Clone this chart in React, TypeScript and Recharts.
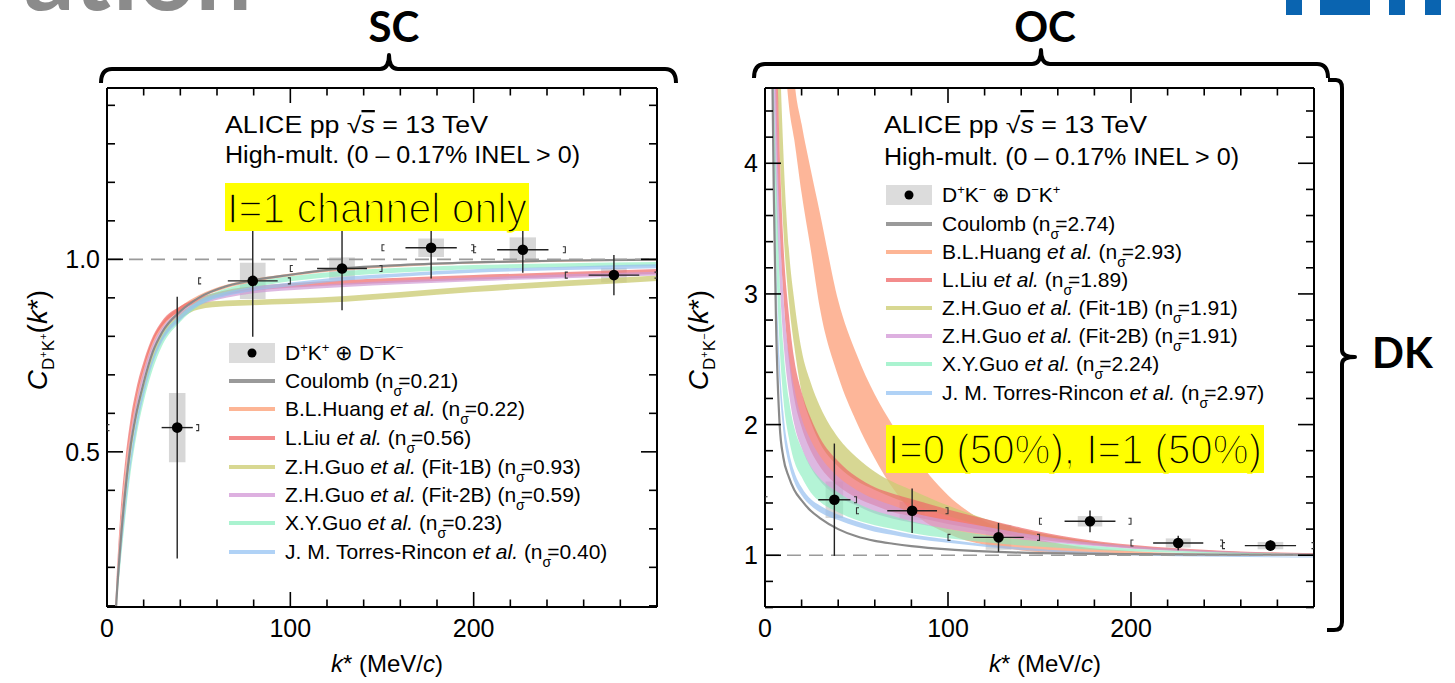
import React from "react";
import {
    ComposedChart,
    Area,
    Line,
    Scatter,
    ErrorBar,
    XAxis,
    YAxis,
    ReferenceLine,
    ReferenceArea,
} from "recharts";

const SANS = "'Liberation Sans', Arial, Helvetica, sans-serif";
const TITLE = "Lato, 'Open Sans', sans-serif";

// ---------- same-charge panel: D+K+ ⊕ D-K-
const scK = [4, 5, 7, 10, 13, 16, 20, 25, 30, 40, 50, 65, 80, 100, 130, 160, 200, 250, 300];
const scCoulomb = [0.0, 0.1, 0.24, 0.4, 0.52, 0.6, 0.68, 0.76, 0.81, 0.865, 0.9, 0.93, 0.946, 0.96, 0.977, 0.985, 0.992, 0.997, 0.999];
const scHuang = [[0.0, 0.02], [0.11, 0.13], [0.26, 0.29], [0.42, 0.45], [0.54, 0.57], [0.62, 0.65], [0.7, 0.725], [0.775, 0.795], [0.82, 0.835], [0.867, 0.878], [0.897, 0.907], [0.925, 0.934], [0.941, 0.949], [0.956, 0.963], [0.972, 0.978], [0.981, 0.987], [0.989, 0.994], [0.994, 0.998], [0.996, 1.0]];
const scLiu = [[0.01, 0.04], [0.13, 0.15], [0.29, 0.32], [0.45, 0.48], [0.56, 0.59], [0.64, 0.665], [0.715, 0.735], [0.785, 0.8], [0.826, 0.84], [0.866, 0.878], [0.888, 0.9], [0.908, 0.92], [0.918, 0.93], [0.926, 0.938], [0.934, 0.946], [0.94, 0.952], [0.947, 0.959], [0.955, 0.967], [0.962, 0.975]];
const scFit1B = [[0.0, 0.02], [0.09, 0.11], [0.22, 0.25], [0.37, 0.4], [0.49, 0.52], [0.58, 0.605], [0.66, 0.685], [0.74, 0.76], [0.79, 0.81], [0.845, 0.862], [0.87, 0.886], [0.878, 0.893], [0.881, 0.895], [0.884, 0.898], [0.89, 0.905], [0.9, 0.915], [0.915, 0.93], [0.93, 0.945], [0.944, 0.958]];
const scFit2B = [[0.0, 0.02], [0.1, 0.12], [0.25, 0.27], [0.41, 0.43], [0.53, 0.55], [0.61, 0.63], [0.69, 0.71], [0.765, 0.78], [0.81, 0.823], [0.855, 0.866], [0.88, 0.89], [0.9, 0.91], [0.912, 0.922], [0.92, 0.93], [0.928, 0.938], [0.935, 0.945], [0.943, 0.953], [0.951, 0.961], [0.958, 0.968]];
const scXYGuo = [[0.0, 0.01], [0.08, 0.1], [0.19, 0.22], [0.33, 0.37], [0.45, 0.49], [0.54, 0.58], [0.63, 0.665], [0.715, 0.745], [0.775, 0.8], [0.838, 0.856], [0.878, 0.894], [0.91, 0.924], [0.927, 0.941], [0.943, 0.956], [0.957, 0.97], [0.966, 0.978], [0.974, 0.985], [0.979, 0.99], [0.982, 0.993]];
const scTorres = [[0.0, 0.01], [0.085, 0.1], [0.2, 0.225], [0.345, 0.37], [0.465, 0.49], [0.555, 0.58], [0.645, 0.665], [0.73, 0.745], [0.785, 0.8], [0.842, 0.855], [0.88, 0.892], [0.905, 0.916], [0.918, 0.929], [0.93, 0.94], [0.945, 0.955], [0.955, 0.964], [0.965, 0.974], [0.972, 0.981], [0.977, 0.987]];

const scPtK = [38.3, 79.5, 128.2, 176.8, 226.8, 276.5];
const scPtC = [0.563, 0.944, 0.976, 1.03, 1.025, 0.959];
const scPtStat = [0.34, 0.145, 0.108, 0.08, 0.06, 0.052];
const scPtKErr = [8.5, 13.6, 13.6, 14, 14, 13.8];
const scPtSyst = [0.09, 0.047, 0.029, 0.024, 0.032, 0.019];
const scPtSystK = [4.5, 7, 7, 7, 7.2, 7];

// ---------- opposite-charge panel: D+K- ⊕ D-K+
const ocK = [3, 4, 5, 6, 8, 10, 13, 16, 20, 25, 30, 40, 50, 60, 70, 80, 100, 120, 140, 170, 200, 250, 300];
const ocCoulomb = [7.0, 4.7, 3.6, 2.8, 2.0, 1.75, 1.6, 1.5, 1.42, 1.34, 1.285, 1.2, 1.145, 1.11, 1.088, 1.07, 1.045, 1.03, 1.02, 1.013, 1.009, 1.005, 1.003];
const ocHuang = [[9.5, 11], [8.5, 10], [7.5, 9], [6.5, 8.5], [5.6, 7.2], [5.0, 6.5], [4.45, 5.3], [4.18, 4.65], [3.77, 4.3], [3.34, 3.95], [2.89, 3.62], [2.37, 2.95], [2.02, 2.54], [1.74, 2.23], [1.51, 1.99], [1.34, 1.79], [1.165, 1.46], [1.08, 1.26], [1.037, 1.155], [1.012, 1.068], [1.004, 1.032], [1.0, 1.01], [1.0, 1.004]];
const ocFit1B = [[8, 9], [6.5, 7.5], [5.6, 6.6], [5.0, 6.0], [4.1, 4.9], [3.5, 4.1], [2.95, 3.35], [2.6, 2.95], [2.25, 2.57], [2.02, 2.32], [1.86, 2.14], [1.68, 1.9], [1.57, 1.75], [1.5, 1.64], [1.44, 1.56], [1.39, 1.5], [1.3, 1.38], [1.22, 1.28], [1.16, 1.2], [1.1, 1.12], [1.055, 1.07], [1.02, 1.03], [1.005, 1.012]];
const ocLiu = [[7, 8], [5.8, 6.8], [5.0, 5.9], [4.3, 5.2], [3.5, 4.1], [3.0, 3.4], [2.5, 2.85], [2.2, 2.5], [1.98, 2.25], [1.8, 2.05], [1.68, 1.9], [1.53, 1.72], [1.44, 1.6], [1.38, 1.52], [1.33, 1.47], [1.3, 1.43], [1.24, 1.35], [1.19, 1.28], [1.14, 1.21], [1.09, 1.13], [1.055, 1.08], [1.025, 1.035], [1.008, 1.015]];
const ocFit2B = [[6, 7], [5.0, 5.8], [4.3, 5.1], [3.8, 4.6], [3.1, 3.6], [2.65, 3.0], [2.25, 2.55], [2.0, 2.28], [1.82, 2.05], [1.67, 1.88], [1.57, 1.76], [1.45, 1.6], [1.38, 1.5], [1.32, 1.43], [1.28, 1.38], [1.25, 1.33], [1.2, 1.27], [1.16, 1.22], [1.12, 1.17], [1.08, 1.11], [1.05, 1.07], [1.02, 1.03], [1.006, 1.012]];
const ocXYGuo = [[5.5, 6.5], [4.4, 5.2], [3.8, 4.5], [3.3, 4.0], [2.6, 3.1], [2.2, 2.6], [1.9, 2.2], [1.72, 1.98], [1.6, 1.82], [1.48, 1.68], [1.41, 1.59], [1.33, 1.48], [1.27, 1.4], [1.23, 1.34], [1.2, 1.3], [1.17, 1.26], [1.13, 1.2], [1.1, 1.155], [1.075, 1.12], [1.05, 1.08], [1.03, 1.05], [1.012, 1.022], [1.004, 1.01]];
const ocTorres = [[5.5, 6.0], [4.4, 4.9], [3.7, 4.1], [3.0, 3.3], [2.3, 2.5], [1.95, 2.1], [1.7, 1.8], [1.56, 1.64], [1.46, 1.52], [1.38, 1.43], [1.33, 1.38], [1.27, 1.31], [1.22, 1.26], [1.18, 1.22], [1.155, 1.19], [1.13, 1.16], [1.095, 1.12], [1.065, 1.085], [1.04, 1.06], [1.015, 1.03], [1.0, 1.012], [0.988, 0.997], [0.982, 0.99]];

const ocPtK = [37.9, 80.4, 127.6, 177.6, 225.8, 276.2];
const ocPtC = [1.425, 1.341, 1.137, 1.26, 1.094, 1.074];
const ocPtStat = [0.43, 0.17, 0.11, 0.083, 0.056, 0.04];
const ocPtKErr = [8.8, 13.6, 13.8, 13.9, 13.7, 14];
const ocPtSyst = [0.14, 0.07, 0.095, 0.04, 0.035, 0.028];
const ocPtSystK = [4.8, 6.8, 7, 6.7, 6.8, 7];

const binEdges = [0, 50, 100, 150, 200, 250, 300];

// ticks
const xTicks = [0, 20, 40, 60, 80, 100, 120, 140, 160, 180, 200, 220, 240, 260, 280];
const xMajors = [0, 100, 200];
const scYTicks = [0.1, 0.2, 0.3, 0.4, 0.5, 0.6, 0.7, 0.8, 0.9, 1.0, 1.1, 1.2, 1.3, 1.4];
const scYMajors = [0.5, 1.0];
const ocYTicks = [0.6, 0.8, 1, 1.2, 1.4, 1.6, 1.8, 2, 2.2, 2.4, 2.6, 2.8, 3, 3.2, 3.4, 3.6, 3.8, 4, 4.2, 4.4];
const ocYMajors = [1, 2, 3, 4];

// legend
const scNsigma = ["0.21", "0.22", "0.56", "0.93", "0.59", "0.23", "0.40"];
const ocNsigma = ["2.74", "2.93", "1.89", "1.91", "1.91", "2.24", "2.97"];
const legendNames = [
    { pre: "Coulomb", etal: false, post: "" },
    { pre: "B.L.Huang", etal: true, post: "" },
    { pre: "L.Liu", etal: true, post: "" },
    { pre: "Z.H.Guo", etal: true, post: " (Fit-1B)" },
    { pre: "Z.H.Guo", etal: true, post: " (Fit-2B)" },
    { pre: "X.Y.Guo", etal: true, post: "" },
    { pre: "J. M. Torres-Rincon", etal: true, post: "" },
];
const legendColors = ["#9a9a9a", "#fdb595", "#f38c8c", "#d8d892", "#ddb0e0", "#aaf3d0", "#b0d2f6"];

// drawing order of the bands
const bands = [
    { key: "huang", color: "#fca27c", opacity: 0.78 },
    { key: "fit1b", color: "#cccc74", opacity: 0.78 },
    { key: "liu", color: "#ee6868", opacity: 0.7 },
    { key: "fit2b", color: "#cf9ad4", opacity: 0.7 },
    { key: "xyguo", color: "#86eebd", opacity: 0.62 },
    { key: "torres", color: "#98c1f0", opacity: 0.72 },
];

function buildRows(k: number[], coul: number[], huang: number[][], liu: number[][], f1: number[][], f2: number[][], xy: number[][], tr: number[][]) {
    return k.map((kv, i) => ({
        k: kv,
        coulomb: coul[i],
        huang: huang[i],
        liu: liu[i],
        fit1b: f1[i],
        fit2b: f2[i],
        xyguo: xy[i],
        torres: tr[i],
    }));
}

const scRows = buildRows(scK, scCoulomb, scHuang, scLiu, scFit1B, scFit2B, scXYGuo, scTorres);
const ocRows = buildRows(ocK, ocCoulomb, ocHuang, ocLiu, ocFit1B, ocFit2B, ocXYGuo, ocTorres);

const pointRows = (k: number[], c: number[], stat: number[], kErr: number[]) =>
    k.map((kv, i) => ({ k: kv, c: c[i], ey: stat[i], ex: kErr[i] }));

const bracketRows = (c: number[]) =>
    c.flatMap((cv, i) => [
        { k: binEdges[i], c: cv, side: "L" },
        { k: binEdges[i + 1], c: cv, side: "R" },
    ]);

const boxRows = (k: number[], c: number[], sy: number[], sx: number[]) =>
    k.map((kv, i) => ({ x1: kv - sx[i], x2: kv + sx[i], y1: c[i] - sy[i], y2: c[i] + sy[i] }));

const same = (a: number, b: number) => Math.abs(a - b) < 1e-6;

const makeXTick = (labels: boolean, side: "bottom" | "top") => (p: any) => {
    const { x, y, payload } = p;
    const major = xMajors.some((m) => same(m, payload.value));
    const len = major ? 15 : 7.5;
    const dir = side === "bottom" ? -1 : 1;
    return (
        <g>
            <line x1={x} y1={y} x2={x} y2={y + dir * len} stroke="#000" strokeWidth={1.6} />
            {labels && major && (
                <text x={x} y={y + 30} textAnchor="middle" fontSize={25} fontFamily={SANS} fill="#000">
                    {payload.value}
                </text>
            )}
        </g>
    );
};

const makeYTick = (majors: number[], fmt: (v: number) => string, side: "left" | "right") => (p: any) => {
    const { x, y, payload } = p;
    const major = majors.some((m) => same(m, payload.value));
    const len = major ? 16 : 8;
    const dir = side === "left" ? 1 : -1;
    return (
        <g>
            <line x1={x} y1={y} x2={x + dir * len} y2={y} stroke="#000" strokeWidth={1.6} />
            {side === "left" && major && (
                <text x={x - 7} y={y + 9} textAnchor="end" fontSize={25} fontFamily={SANS} fill="#000">
                    {fmt(payload.value)}
                </text>
            )}
        </g>
    );
};

const DataDot = (p: any) => <circle cx={p.cx} cy={p.cy} r={5.3} fill="#000" />;

const BinMark = (p: any) => {
    const { cx, cy, payload } = p;
    const d = payload.side === "L" ? 2.5 : -2.5;
    return (
        <path
            d={`M${cx + d},${cy - 3} L${cx},${cy - 3} L${cx},${cy + 3} L${cx + d},${cy + 3}`}
            stroke="#333"
            strokeWidth={1.1}
            fill="none"
        />
    );
};

const axisLine = { stroke: "#000", strokeWidth: 2 };

interface PanelProps {
    width: number;
    margin: { top: number; right: number; bottom: number; left: number };
    rows: any[];
    points: any[];
    marks: any[];
    boxes: { x1: number; x2: number; y1: number; y2: number }[];
    yDomain: [number, number];
    yTicks: number[];
    yMajors: number[];
    yFmt: (v: number) => string;
}

function Panel({ width, margin, rows, points, marks, boxes, yDomain, yTicks, yMajors, yFmt }: PanelProps) {
    return (
        <ComposedChart width={width} height={683} data={rows} margin={margin}>
            <XAxis
                xAxisId="x"
                dataKey="k"
                type="number"
                domain={[0, 300]}
                ticks={xTicks}
                interval={0}
                allowDataOverflow
                height={10}
                tickSize={0}
                tickMargin={0}
                tickLine={false}
                axisLine={axisLine}
                tick={makeXTick(true, "bottom")}
            />
            <XAxis
                xAxisId="xt"
                orientation="top"
                dataKey="k"
                type="number"
                domain={[0, 300]}
                ticks={xTicks}
                interval={0}
                allowDataOverflow
                height={10}
                tickSize={0}
                tickMargin={0}
                tickLine={false}
                axisLine={axisLine}
                tick={makeXTick(false, "top")}
            />
            <YAxis
                yAxisId="y"
                type="number"
                domain={yDomain}
                ticks={yTicks}
                interval={0}
                allowDataOverflow
                width={10}
                tickSize={0}
                tickMargin={0}
                tickLine={false}
                axisLine={axisLine}
                tick={makeYTick(yMajors, yFmt, "left")}
            />
            <YAxis
                yAxisId="yr"
                orientation="right"
                type="number"
                domain={yDomain}
                ticks={yTicks}
                interval={0}
                allowDataOverflow
                width={10}
                tickSize={0}
                tickMargin={0}
                tickLine={false}
                axisLine={axisLine}
                tick={makeYTick(yMajors, yFmt, "right")}
            />
            {boxes.map((b, i) => (
                <ReferenceArea
                    key={`box${i}`}
                    xAxisId="x"
                    yAxisId="y"
                    x1={b.x1}
                    x2={b.x2}
                    y1={b.y1}
                    y2={b.y2}
                    fill="#b0b0b0"
                    fillOpacity={0.5}
                    stroke="none"
                />
            ))}
            {bands.map((b) => (
                <Area
                    key={b.key}
                    xAxisId="x"
                    yAxisId="y"
                    type="monotone"
                    dataKey={b.key}
                    stroke="none"
                    fill={b.color}
                    fillOpacity={b.opacity}
                    dot={false}
                    activeDot={false}
                    isAnimationActive={false}
                />
            ))}
            <Line
                xAxisId="x"
                yAxisId="y"
                type="monotone"
                dataKey="coulomb"
                stroke="#8a8a8a"
                strokeWidth={2.2}
                dot={false}
                activeDot={false}
                isAnimationActive={false}
            />
            <ReferenceLine xAxisId="x" yAxisId="y" y={1} stroke="#9a9a9a" strokeWidth={1.6} strokeDasharray="14 8" />
            <Scatter xAxisId="x" yAxisId="y" data={marks} dataKey="c" shape={BinMark} isAnimationActive={false} />
            <Scatter xAxisId="x" yAxisId="y" data={points} dataKey="c" shape={DataDot} isAnimationActive={false}>
                <ErrorBar dataKey="ey" direction="y" width={0} stroke="#222" strokeWidth={1.4} />
                <ErrorBar dataKey="ex" direction="x" width={0} stroke="#222" strokeWidth={1.4} />
            </Scatter>
        </ComposedChart>
    );
}

function Sup({ children }: { children: string }) {
    return <tspan fontSize={13} dy={-8}>{children}</tspan>;
}

function LegendBlock({ x, rowsY, nsig, pair }: { x: number; rowsY: number[]; nsig: string[]; pair: [string, string, string, string] }) {
    const tx = x + 56;
    return (
        <g fontFamily={SANS} fontSize={21} fill="#000">
            <rect x={x} y={rowsY[0] - 10} width={46} height={20} fill="#dcdcdc" />
            <circle cx={x + 23} cy={rowsY[0]} r={4.5} fill="#000" />
            <text x={tx} y={rowsY[0] + 7}>
                D<Sup>{pair[0]}</Sup>
                <tspan dy={8}>K</tspan>
                <Sup>{pair[1]}</Sup>
                <tspan dy={8}> ⊕ D</tspan>
                <Sup>{pair[2]}</Sup>
                <tspan dy={8}>K</tspan>
                <Sup>{pair[3]}</Sup>
            </text>
            {legendNames.map((n, i) => {
                const y = rowsY[i + 1];
                return (
                    <g key={i}>
                        <line x1={x} x2={x + 46} y1={y} y2={y} stroke={legendColors[i]} strokeWidth={4} />
                        <text x={tx} y={y + 7}>
                            {n.pre}
                            {n.etal && <tspan fontStyle="italic"> et al.</tspan>}
                            {n.post} (n
                            <tspan fontSize={14} dy={8}>σ</tspan>
                            <tspan dy={-8} dx={-4}>={nsig[i]})</tspan>
                        </text>
                    </g>
                );
            })}
        </g>
    );
}

function Overlay() {
    const alice = (x: number, y1: number, y2: number) => (
        <g fontFamily={SANS} fontSize={23} fill="#000">
            <text x={x} y={y1} textLength={263} lengthAdjust="spacingAndGlyphs">
                ALICE pp  √<tspan fontStyle="italic" textDecoration="overline">s</tspan> = 13 TeV
            </text>
            <text x={x} y={y2} textLength={355} lengthAdjust="spacingAndGlyphs">
                High-mult. (0 – 0.17% INEL &gt; 0)
            </text>
        </g>
    );
    const kLabel = (cx: number) => (
        <text x={cx} y={672} textAnchor="middle" fontFamily={SANS} fontSize={24} fill="#000">
            <tspan fontStyle="italic">k</tspan>* (MeV/<tspan fontStyle="italic">c</tspan>)
        </text>
    );
    const cLabel = (bx: number, s2: string) => (
        <text transform={`translate(${bx},340) rotate(-90)`} textAnchor="middle" fontFamily={SANS} fontSize={28} fill="#000">
            <tspan fontStyle="italic">C</tspan>
            <tspan fontSize={17} dy={7}>D</tspan>
            <tspan fontSize={11} dy={-7}>+</tspan>
            <tspan fontSize={17} dy={7}>K</tspan>
            <tspan fontSize={11} dy={-7}>{s2}</tspan>
            <tspan>(</tspan>
            <tspan fontStyle="italic">k</tspan>
            <tspan>*)</tspan>
        </text>
    );
    // thin "light" lettering on the yellow labels: a yellow outline eats into the glyphs
    const thin = { stroke: "#ffff00", strokeWidth: 1.6 };
    return (
        <svg width={1455} height={683} style={{ position: "absolute", left: 0, top: 0, pointerEvents: "none" }}>
            <text x={252} y={10} textAnchor="end" fontFamily={TITLE} fontWeight={700} fontSize={100} fill="#8b8b8b">
                ation
            </text>
            <rect x={1286} y={0} width={16} height={15} fill="#0a64b0" />
            <rect x={1320} y={0} width={50} height={15} fill="#0a64b0" />
            <rect x={1389} y={0} width={16} height={15} fill="#0a64b0" />
            <rect x={1425} y={0} width={16} height={15} fill="#0a64b0" />

            <g fontFamily={TITLE} fontWeight={700} fontSize={42} fill="#000">
                <text x={394} y={42} textAnchor="middle">SC</text>
                <text x={1045} y={42} textAnchor="middle">OC</text>
                <text x={1372} y={368}>DK</text>
            </g>
            <g stroke="#000" strokeWidth={4} fill="none" strokeLinejoin="round">
                <path d="M101,83 Q101,69 112,69 L380,69 Q389,69 389,55 Q389,69 398,69 L665,69 Q676,69 676,83" />
                <path d="M754,78 Q754,64 765,64 L1032,64 Q1041,64 1041,50 Q1041,64 1050,64 L1317,64 Q1328,64 1328,78" />
                <path d="M1328,80 L1336,80 Q1342,80 1342,88 L1342,350 Q1342,357 1355,357 Q1342,357 1342,364 L1342,622 Q1342,630 1334,630 L1327,630" />
            </g>

            {cLabel(47, "+")}
            {cLabel(708, "−")}
            {kLabel(387)}
            {kLabel(1045)}

            {alice(225, 133, 163)}
            {alice(884, 133, 165)}

            <LegendBlock x={229} rowsY={[353, 381, 409, 438, 467, 495, 523, 552]} nsig={scNsigma} pair={["+", "+", "−", "−"]} />
            <LegendBlock x={886} rowsY={[195, 224, 252, 280, 308, 336, 364, 393]} nsig={ocNsigma} pair={["+", "−", "−", "+"]} />

            <rect x={225} y={183} width={304} height={48} fill="#ffff00" />
            <text x={227} y={223} fontFamily={SANS} fontSize={43} fill="#000" textLength={300} lengthAdjust="spacingAndGlyphs" {...thin}>
                I=1 channel only
            </text>
            <rect x={886} y={425} width={378} height={48} fill="#ffff00" />
            <text x={888} y={464} fontFamily={SANS} fontSize={43} fill="#000" textLength={374} lengthAdjust="spacingAndGlyphs" {...thin}>
                I=0 (50%), I=1 (50%)
            </text>
        </svg>
    );
}

export default function App() {
    return (
        <div style={{ position: "absolute", left: 0, top: 0, width: 1455, height: 683, background: "#fff", overflow: "hidden" }}>
            <div style={{ position: "absolute", left: 0, top: 0 }}>
                <Panel
                    width={700}
                    margin={{ top: 78, right: 33, bottom: 66, left: 97 }}
                    rows={scRows}
                    points={pointRows(scPtK, scPtC, scPtStat, scPtKErr)}
                    marks={bracketRows(scPtC)}
                    boxes={boxRows(scPtK, scPtC, scPtSyst, scPtSystK)}
                    yDomain={[0.097, 1.445]}
                    yTicks={scYTicks}
                    yMajors={scYMajors}
                    yFmt={(v) => v.toFixed(1)}
                />
            </div>
            <div style={{ position: "absolute", left: 700, top: 0 }}>
                <Panel
                    width={755}
                    margin={{ top: 78, right: 131, bottom: 66, left: 55 }}
                    rows={ocRows}
                    points={pointRows(ocPtK, ocPtC, ocPtStat, ocPtKErr)}
                    marks={bracketRows(ocPtC)}
                    boxes={boxRows(ocPtK, ocPtC, ocPtSyst, ocPtSystK)}
                    yDomain={[0.604, 4.576]}
                    yTicks={ocYTicks}
                    yMajors={ocYMajors}
                    yFmt={(v) => String(v)}
                />
            </div>
            <Overlay />
        </div>
    );
}
